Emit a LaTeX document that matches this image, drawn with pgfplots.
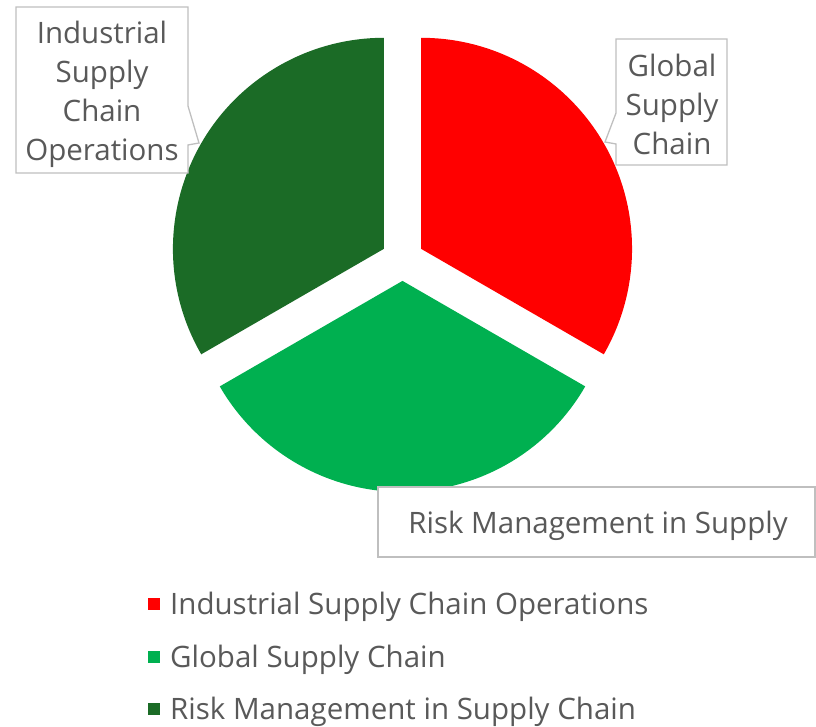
\documentclass[border=0pt]{standalone}
\usepackage{fontspec}
\setmainfont{Open Sans}
\usepackage{pgfplots}
\pgfplotsset{compat=1.18}
\definecolor{pieRed}{HTML}{FF0000}
\definecolor{pieGreen}{HTML}{00B050}
\definecolor{pieDark}{HTML}{1B6B26}
\definecolor{txt}{HTML}{595959}
\definecolor{boxline}{HTML}{BFBFBF}
\begin{document}
\begin{tikzpicture}
% data: three equal shares (1, 1, 1) -> 120 degrees each
\begin{axis}[hide axis, scale only axis, width=816pt, height=725pt,
  xmin=0, xmax=816, ymin=0, ymax=725, y dir=reverse, clip=false]
\addplot[draw=none, forget plot] coordinates {(0,0) (816,725)};
% centre (402.5,259.5), radius 211, explode 21.4
% Industrial Supply Chain Operations: 90 -> -30, mid 30
\fill[pieRed] (axis cs:{402.5+21.4*cos(30)},{259.5-21.4*sin(30)}) -- ++(90:211pt) arc[start angle=90, end angle=-30, radius=211pt] -- cycle;
% Global Supply Chain: -30 -> -150, mid -90
\fill[pieGreen] (axis cs:{402.5+21.4*cos(-90)},{259.5-21.4*sin(-90)}) -- ++(-30:211pt) arc[start angle=-30, end angle=-150, radius=211pt] -- cycle;
% Risk Management in Supply Chain: -150 -> -270, mid -210
\fill[pieDark] (axis cs:{402.5+21.4*cos(150)},{259.5-21.4*sin(150)}) -- ++(210:211pt) arc[start angle=210, end angle=90, radius=211pt] -- cycle;
% callouts
\draw[boxline, line width=1.3pt, fill=white] (axis cs:16,7) -- (axis cs:188,7) -- (axis cs:188,106) -- (axis cs:199,143) -- (axis cs:188,145) -- (axis cs:188,173) -- (axis cs:16,173) -- cycle;
\node[txt, align=center, font=\fontsize{29.5}{39}\selectfont] at (axis cs:102,94) {Industrial\\Supply\\Chain\\Operations};
\draw[boxline, line width=1.3pt, fill=white] (axis cs:616,39) -- (axis cs:727,39) -- (axis cs:727,165) -- (axis cs:616,165) -- (axis cs:616,144) -- (axis cs:605,142) -- (axis cs:616,113) -- cycle;
\node[txt, align=center, font=\fontsize{29.5}{39}\selectfont] at (axis cs:672,104) {Global\\Supply\\Chain};
\draw[boxline, line width=1.3pt, fill=white] (axis cs:378,487) rectangle (axis cs:815,557);
\node[txt, font=\fontsize{29.5}{39}\selectfont] at (axis cs:598,526) {Risk Management in Supply};
% legend
\fill[pieRed] (axis cs:148,598) rectangle (axis cs:160,610);
\node[txt, anchor=west, inner sep=0pt, font=\fontsize{29.5}{36}\selectfont] at (axis cs:170,607) {Industrial Supply Chain Operations};
\fill[pieGreen] (axis cs:148,651) rectangle (axis cs:160,663);
\node[txt, anchor=west, inner sep=0pt, font=\fontsize{29.5}{36}\selectfont] at (axis cs:170,660) {Global Supply Chain};
\fill[pieDark] (axis cs:148,703) rectangle (axis cs:160,715);
\node[txt, anchor=west, inner sep=0pt, font=\fontsize{29.5}{36}\selectfont] at (axis cs:170,712) {Risk Management in Supply Chain};
\end{axis}
\end{tikzpicture}
\end{document}
